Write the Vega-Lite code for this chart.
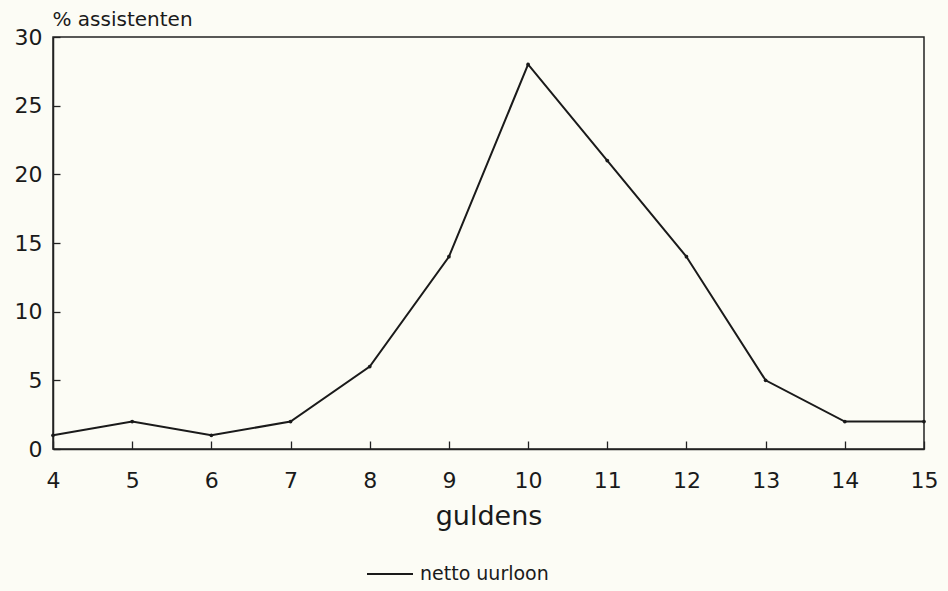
{
  "$schema": "https://vega.github.io/schema/vega-lite/v6.json",
  "autosize": "none",
  "width": 871,
  "height": 412,
  "padding": {"left": 53, "top": 37, "right": 24, "bottom": 142},
  "background": "#fcfcf5",
  "data": {"values": [
    {"gulden": 4, "pct": 1, "serie": "netto uurloon"},
    {"gulden": 5, "pct": 2, "serie": "netto uurloon"},
    {"gulden": 6, "pct": 1, "serie": "netto uurloon"},
    {"gulden": 7, "pct": 2, "serie": "netto uurloon"},
    {"gulden": 8, "pct": 6, "serie": "netto uurloon"},
    {"gulden": 9, "pct": 14, "serie": "netto uurloon"},
    {"gulden": 10, "pct": 28, "serie": "netto uurloon"},
    {"gulden": 11, "pct": 21, "serie": "netto uurloon"},
    {"gulden": 12, "pct": 14, "serie": "netto uurloon"},
    {"gulden": 13, "pct": 5, "serie": "netto uurloon"},
    {"gulden": 14, "pct": 2, "serie": "netto uurloon"},
    {"gulden": 15, "pct": 2, "serie": "netto uurloon"}
  ]},
  "config": {
    "font": "DejaVu Sans",
    "view": {"stroke": "#222", "strokeWidth": 1.5},
    "axis": {"domainColor": "#222", "domainWidth": 1.5, "tickColor": "#222", "tickWidth": 1.3, "labelColor": "#1a1a1a", "titleColor": "#1a1a1a", "grid": false, "labelFont": "DejaVu Sans", "titleFont": "DejaVu Sans", "titleFontWeight": "normal"}
  },
  "mark": {"type": "line", "color": "#1a1a1a", "strokeWidth": 2, "point": {"filled": true, "size": 14, "color": "#1a1a1a"}},
  "encoding": {
    "x": {"field": "gulden", "type": "quantitative", "scale": {"domain": [4, 15], "nice": false, "zero": false},
      "axis": {"values": [4,5,6,7,8,9,10,11,12,13,14,15], "tickSize": -8, "labelPadding": 29, "labelFontSize": 22, "labelFlush": false,
        "title": "guldens", "titleFontSize": 27, "titlePadding": 12}},
    "y": {"field": "pct", "type": "quantitative", "scale": {"domain": [0, 30], "nice": false},
      "axis": {"values": [0,5,10,15,20,25,30], "tickSize": -7, "labelPadding": 18, "labelFontSize": 22,
        "title": "% assistenten", "titleAngle": 0, "titleAlign": "left", "titleBaseline": "alphabetic", "titleX": -1, "titleY": -12, "titleFontSize": 20}},
    "color": {"field": "serie", "type": "nominal", "scale": {"range": ["#1a1a1a"]},
      "legend": {"title": null, "orient": "none", "legendX": 313, "legendY": 513, "symbolType": "stroke", "symbolSize": 2116, "symbolStrokeWidth": 2, "labelFontSize": 19, "labelColor": "#1a1a1a", "labelOffset": 6}}
  }
}
